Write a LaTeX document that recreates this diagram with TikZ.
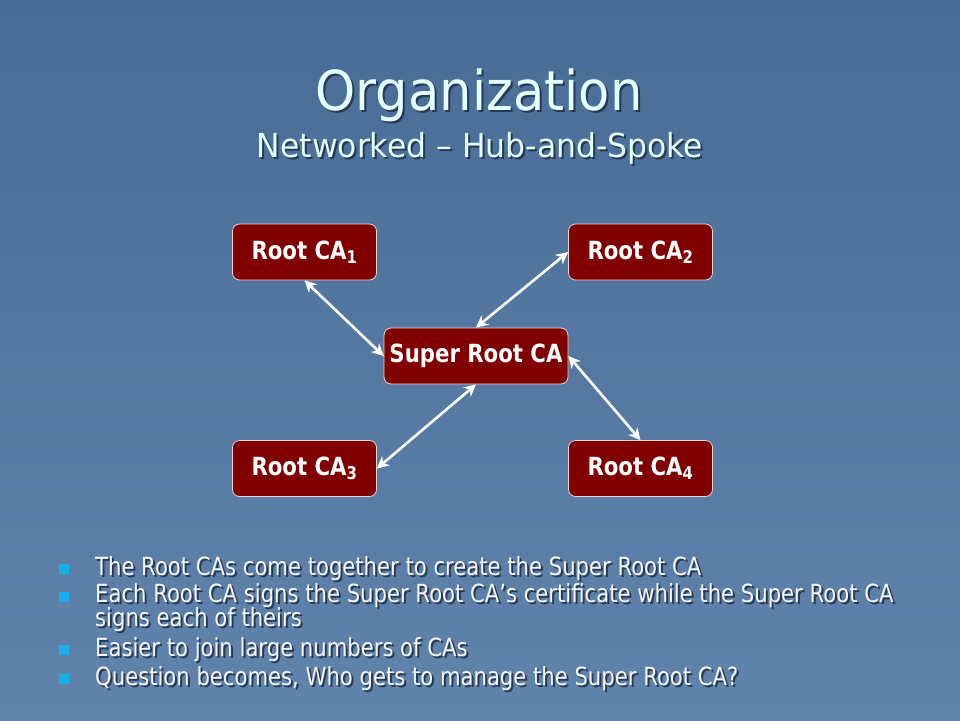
\documentclass[tikz,border=0pt]{standalone}
\usepackage{fontspec}
\setmainfont{DejaVu Sans}[FakeStretch=0.846]
\newfontfamily\titlefont{DejaVu Sans}[FakeStretch=0.93]
\newfontfamily\subfont{DejaVu Sans}[FakeStretch=0.953]
\newfontfamily\boxfont{DejaVu Sans}[FakeStretch=0.85]
\usetikzlibrary{arrows.meta}
\definecolor{bgtop}{RGB}{72,108,150}
\definecolor{bgbot}{RGB}{96,132,172}
\definecolor{titlecol}{RGB}{228,255,255}
\definecolor{shadowcol}{RGB}{38,56,82}
\definecolor{boxfill}{RGB}{128,0,0}
\definecolor{boxline}{RGB}{240,215,215}
\definecolor{bulletcol}{RGB}{24,176,236}
\definecolor{bodytext}{RGB}{245,245,245}
\newcommand\shtext[1]{\makebox[0pt][l]{\hspace{2pt}\raisebox{-2pt}{\textcolor{shadowcol}{#1}}}#1}
\begin{document}
\begin{tikzpicture}[x=1pt,y=-1pt,
  cabox/.style={draw=boxline, line width=0.8pt, fill=boxfill, rounded corners=7pt,
    minimum width=144pt, minimum height=56pt, inner sep=0pt, text=white,
    font=\boxfont\bfseries\fontsize{25}{28}\selectfont},
  link/.style={draw=white, line width=2.6pt, {Stealth[length=12pt,width=12pt]}-{Stealth[length=12pt,width=12pt]}},
  bullettext/.style={anchor=base west, inner sep=0pt, text=bodytext, font=\fontsize{25}{23}\selectfont, align=left},
  bulletsq/.style={fill=bulletcol, minimum size=10pt, inner sep=0pt}
]
\shade[top color=bgtop, bottom color=bgbot] (0,0) rectangle (960,720);
\useasboundingbox (0,0) rectangle (960,720);

% titles
\node[anchor=base, inner sep=0pt, text=titlecol, font=\titlefont\fontsize{55}{60}\selectfont] (title) at (479,110) {\shtext{Organization}};
\node[anchor=base, inner sep=0pt, text=titlecol, font=\subfont\fontsize{33}{36}\selectfont] (subtitle) at (480,157) {\shtext{Networked – Hub-and-Spoke}};

% boxes
\node[cabox] (ca1) at (304.5,252) {Root CA\textsubscript{1}};
\node[cabox] (ca2) at (640.5,252) {Root CA\textsubscript{2}};
\node[cabox, minimum width=184pt] (super) at (476,356) {Super Root CA};
\node[cabox] (ca3) at (304.5,468.5) {Root CA\textsubscript{3}};
\node[cabox] (ca4) at (640.5,468.5) {Root CA\textsubscript{4}};

% links
\draw[link] (ca1.south) -- (super.west);
\draw[link] (ca2.west) -- (super.north);
\draw[link] (super.south) -- (ca3.east);
\draw[link] (super.east) -- (ca4.north);

% bullets
\node[bulletsq] (b1) at (63.5,569) {};
\node[bullettext] (t1) at (95,575) {\shtext{The Root CAs come together to create the Super Root CA}};
\node[bulletsq] (b2) at (63.5,597) {};
\node[bullettext] (t2) at (95,626) {\shtext{Each Root CA signs the Super Root CA’s certificate while the Super Root CA}\\[-4pt]\shtext{signs each of theirs}};
\node[bulletsq] (b3) at (63.5,650) {};
\node[bullettext] (t3) at (95,656) {\shtext{Easier to join large numbers of CAs}};
\node[bulletsq] (b4) at (63.5,679) {};
\node[bullettext] (t4) at (95,685) {\shtext{Question becomes, Who gets to manage the Super Root CA?}};
\end{tikzpicture}
\end{document}
